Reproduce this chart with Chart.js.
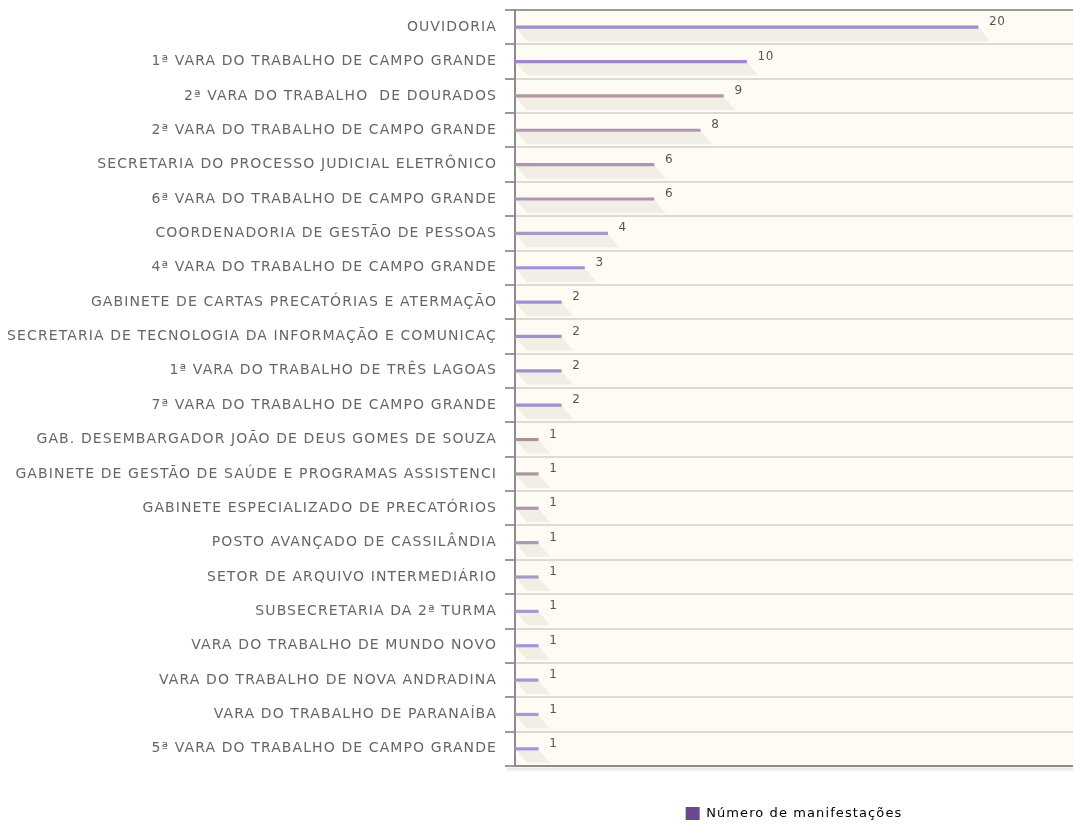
<!DOCTYPE html>
<html>
<head>
<meta charset="utf-8">
<script src="https://cdn.jsdelivr.net/npm/chart.js@4/dist/chart.umd.min.js"></script>
<style>
  html, body { margin: 0; padding: 0; background: #ffffff; }
  #wrap { width: 1073px; height: 827px; position: relative; }
</style>
</head>
<body>
<div id="wrap"><canvas id="manifChart"></canvas></div>
<script>
// categories and values
const units = [
  'OUVIDORIA',
  '1ª VARA DO TRABALHO DE CAMPO GRANDE',
  '2ª VARA DO TRABALHO  DE DOURADOS',
  '2ª VARA DO TRABALHO DE CAMPO GRANDE',
  'SECRETARIA DO PROCESSO JUDICIAL ELETRÔNICO',
  '6ª VARA DO TRABALHO DE CAMPO GRANDE',
  'COORDENADORIA DE GESTÃO DE PESSOAS',
  '4ª VARA DO TRABALHO DE CAMPO GRANDE',
  'GABINETE DE CARTAS PRECATÓRIAS E ATERMAÇÃO',
  'SECRETARIA DE TECNOLOGIA DA INFORMAÇÃO E COMUNICAÇ',
  '1ª VARA DO TRABALHO DE TRÊS LAGOAS',
  '7ª VARA DO TRABALHO DE CAMPO GRANDE',
  'GAB. DESEMBARGADOR JOÃO DE DEUS GOMES DE SOUZA',
  'GABINETE DE GESTÃO DE SAÚDE E PROGRAMAS ASSISTENCI',
  'GABINETE ESPECIALIZADO DE PRECATÓRIOS',
  'POSTO AVANÇADO DE CASSILÂNDIA',
  'SETOR DE ARQUIVO INTERMEDIÁRIO',
  'SUBSECRETARIA DA 2ª TURMA',
  'VARA DO TRABALHO DE MUNDO NOVO',
  'VARA DO TRABALHO DE NOVA ANDRADINA',
  'VARA DO TRABALHO DE PARANAÍBA',
  '5ª VARA DO TRABALHO DE CAMPO GRANDE'
];
const manifestacoes = [20, 10, 9, 8, 6, 6, 4, 3, 2, 2, 2, 2, 1, 1, 1, 1, 1, 1, 1, 1, 1, 1];
const seriesLabel = 'Número de manifestações';

// line colours drift a little between purple and mauve in the original
const lineColors = [
  '#a08ccc', '#a088c8', '#b095a5', '#b097b0', '#b095b0', '#ae95b8', '#aa95c8',
  '#a690d4', '#a48ed0', '#a48ed0', '#a48ed0', '#a48ed0', '#aa9298', '#ac94a0',
  '#ae96aa', '#ae96b8', '#ac96c2', '#aa96ce', '#aa94d6', '#a894d6', '#a894d6', '#a692d8'
];

const FONT = '"DejaVu Sans", Verdana, sans-serif';

// the original text is set wide; canvas letter spacing has to be re-applied after resizes
const wideText = {
  id: 'wideText',
  beforeUpdate(chart) { chart.ctx.letterSpacing = '1.1px'; },
  beforeLayout(chart) { chart.ctx.letterSpacing = '1.1px'; },
  beforeDraw(chart) { chart.ctx.letterSpacing = '1.1px'; }
};

// cream plot background + soft shadow under the bottom axis
const plotBackground = {
  id: 'plotBackground',
  beforeDraw(chart) {
    const { ctx, chartArea: a } = chart;
    ctx.save();
    ctx.fillStyle = '#fdfbf3';
    ctx.fillRect(a.left, a.top, a.right - a.left, a.bottom - a.top);
    ctx.restore();
  },
  afterDraw(chart) {
    const { ctx, chartArea: a } = chart;
    ctx.save();
    ctx.strokeStyle = 'rgba(0,0,0,0.08)';
    ctx.lineWidth = 3;
    ctx.beginPath();
    ctx.moveTo(a.left - 8, a.bottom + 3);
    ctx.lineTo(a.right, a.bottom + 3);
    ctx.stroke();
    ctx.restore();
  }
};

// grey slanted "floor" under each bar
const barShadow = {
  id: 'barShadow',
  beforeDatasetsDraw(chart) {
    const { ctx } = chart;
    const meta = chart.getDatasetMeta(0);
    ctx.save();
    meta.data.forEach((bar) => {
      const y = bar.y;
      ctx.fillStyle = 'rgba(120,110,90,0.09)';
      ctx.beginPath();
      ctx.moveTo(bar.base, y);
      ctx.lineTo(bar.x, y);
      ctx.lineTo(bar.x + 12, y + 14);
      ctx.lineTo(bar.base + 12, y + 14);
      ctx.closePath();
      ctx.fill();
    });
    ctx.restore();
  }
};

// numbers next to the bar ends
const valueLabels = {
  id: 'valueLabels',
  afterDatasetsDraw(chart) {
    const { ctx } = chart;
    const meta = chart.getDatasetMeta(0);
    const values = chart.data.datasets[0].data;
    ctx.save();
    ctx.letterSpacing = '0.5px';
    ctx.font = '12px ' + FONT;
    ctx.fillStyle = '#555555';
    ctx.textAlign = 'left';
    ctx.textBaseline = 'middle';
    meta.data.forEach((bar, i) => {
      ctx.fillText(String(values[i]), bar.x + 11, bar.y - 5);
    });
    ctx.restore();
  }
};

const ctx = document.getElementById('manifChart');

new Chart(ctx, {
  type: 'bar',
  data: {
    labels: units,
    datasets: [{
      label: seriesLabel,
      data: manifestacoes,
      backgroundColor: lineColors,
      borderWidth: 0,
      barThickness: 2.5
    }]
  },
  options: {
    indexAxis: 'y',
    responsive: true,
    maintainAspectRatio: false,
    animation: false,
    layout: { padding: { top: 10, right: 0, left: 0, bottom: -3 } },
    scales: {
      x: {
        min: 0,
        max: 24.1,
        ticks: { display: false },
        grid: { display: false, drawTicks: false },
        border: { display: true, color: '#8c8c8c', width: 2 },
        afterFit(scale) { scale.height = 39; }
      },
      y: {
        ticks: {
          color: '#666666',
          padding: 8,
          autoSkip: false,
          font: { family: FONT, size: 14 }
        },
        grid: {
          offset: true,
          lineWidth: 2,
          color: (c) => (c.index === 0 ? '#9a9a9a' : '#dcdad4'),
          tickColor: '#9a9a9a',
          tickLength: 10,
          tickWidth: 2
        },
        border: { display: true, color: '#8c8c8c', width: 2 },
        afterFit(scale) {
          scale.width = 515;
          scale.paddingTop = 0;
          scale.paddingBottom = 0;
        }
      }
    },
    plugins: {
      legend: {
        position: 'bottom',
        fullSize: false,
        labels: {
          color: '#666666',
          boxWidth: 14,
          boxHeight: 13,
          padding: 2,
          font: { family: FONT, size: 13 },
          generateLabels: (chart) => [{
            text: chart.data.datasets[0].label,
            fillStyle: '#6a4a8c',
            strokeStyle: '#6a4a8c',
            lineWidth: 0,
            datasetIndex: 0
          }]
        }
      },
      tooltip: { enabled: false }
    }
  },
  plugins: [wideText, plotBackground, barShadow, valueLabels]
});
</script>
</body>
</html>
